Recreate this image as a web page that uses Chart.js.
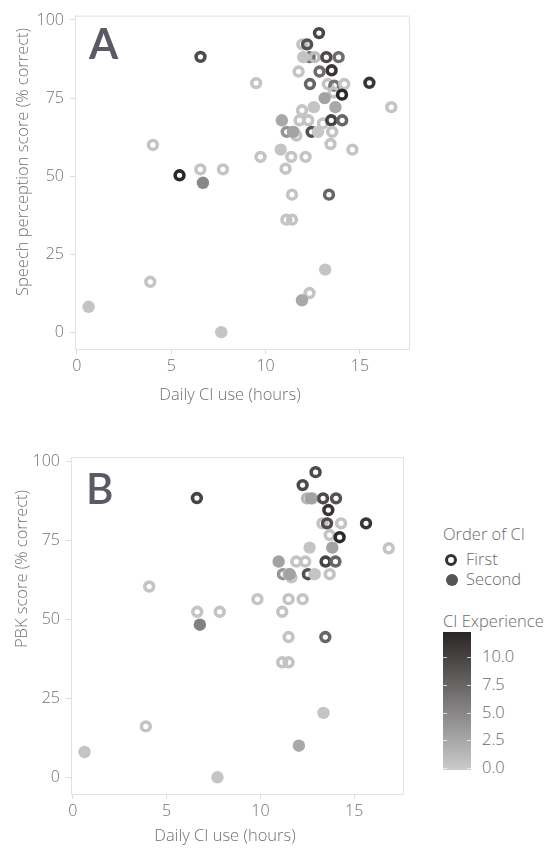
<!DOCTYPE html>
<html>
<head>
<meta charset="utf-8">
<script src="https://cdn.jsdelivr.net/npm/chart.js@4.4.1/dist/chart.umd.min.js"></script>
<style>
  body { margin: 0; background: #fff; width: 548px; height: 850px; position: relative; overflow: hidden; font-family: 'Open Sans', sans-serif; }
  canvas { position: absolute; left: 0; }
  .panel-tag { position: absolute; font-family: 'Lato', sans-serif; font-weight: 700; font-size: 42px; color: #5b5964; line-height: 1; }
  .lg { position: absolute; font-size: 16.5px; color: #6a6a6a; font-weight: 300; white-space: nowrap; line-height: 1; }
  .ring { position: absolute; width: 6px; height: 6px; border: 3.2px solid #333; border-radius: 50%; }
  .dot { position: absolute; width: 12px; height: 12px; background: #555; border-radius: 50%; }
  .cbar { position: absolute; left: 443px; top: 632px; width: 28px; height: 138px; background: linear-gradient(to bottom, #2a2525, #cbcbcb); }
  .cbtick { position: absolute; width: 4px; height: 1px; background: rgba(255,255,255,0.7); }
</style>
</head>
<body>
<canvas id="chartA" width="420" height="420" style="top:0"></canvas>
<canvas id="chartB" width="420" height="410" style="top:440px"></canvas>

<div class="panel-tag" style="left:89px; top:22px">A</div>
<div class="panel-tag" style="left:86px; top:467px; font-weight:600">B</div>

<div class="lg" style="left:443px; top:526px">Order of CI</div>
<div class="ring" style="left:445px; top:554px"></div>
<div class="lg" style="left:466px; top:551px">First</div>
<div class="dot" style="left:446px; top:574px"></div>
<div class="lg" style="left:466px; top:571px">Second</div>
<div class="lg" style="left:443px; top:613px">CI Experience</div>
<div class="cbar"></div>
<div id="cbticks"></div>

<script>
// axis ticks
const yTicks = [0, 25, 50, 75, 100];
const xTicks = [0, 5, 10, 15];
const expTicks = [0, 2.5, 5, 7.5, 10];

// Panel A - speech perception, first CI (rings)
const aFirstX = [12.83, 11.95, 12.2, 12.33, 12.6, 13.22, 13.87, 6.55, 11.75, 12.86, 13.5, 9.5, 12.35, 13.3, 13.64, 14.17, 15.5, 13.6, 14.05, 11.93, 16.66, 11.8, 12.26, 13.04, 13.48, 14.06, 11.12, 11.5, 11.63, 12.44, 13.53, 13.44, 14.6, 9.73, 11.36, 12.12, 11.06, 4.03, 6.54, 7.74, 5.44, 11.4, 13.36, 11.1, 11.4, 12.33, 3.89];
const aFirstY = [95.8, 92.2, 92.2, 88.1, 88.1, 88.1, 88.1, 88.2, 83.5, 83.5, 83.9, 79.8, 79.5, 79.5, 79.0, 79.5, 79.9, 76.8, 76.1, 71.1, 72.1, 67.9, 67.9, 66.9, 67.9, 67.9, 64.2, 64.2, 63.0, 64.2, 64.2, 60.3, 58.5, 56.2, 56.2, 56.2, 52.4, 60.0, 52.2, 52.2, 50.3, 44.1, 44.1, 36.1, 36.1, 12.6, 16.2];
const aFirstExp = [9.8, 0.5, 9, 6.8, 1, 9.5, 7, 9.5, 0.5, 7, 11, 0.5, 7.5, 0.5, 6.5, 0.5, 11, 0.5, 12, 0.5, 0.5, 0.5, 0.5, 0.5, 10, 7.5, 4, 0.5, 0.5, 9, 0.5, 0.5, 0.5, 0.5, 0.5, 0.5, 0.5, 0.5, 0.5, 0.5, 12, 0.5, 7.5, 0.5, 0.5, 0.5, 0.5];

// Panel A - second CI (filled)
const aSecondX = [12.0, 13.13, 12.56, 13.7, 10.86, 11.45, 12.78, 10.8, 6.68, 13.16, 11.93, 0.62, 7.65];
const aSecondY = [88.1, 75.0, 72.1, 72.1, 67.9, 64.2, 64.2, 58.5, 47.9, 20.1, 10.3, 8.2, 0.1];
const aSecondExp = [0.5, 3, 0.5, 2.5, 2.5, 3, 0.3, 0.5, 5, 0.5, 2.5, 0.5, 0.5];

// Panel B - PBK score, first CI (rings)
const bFirstX = [12.94, 12.25, 6.61, 12.48, 12.78, 13.34, 14.03, 13.62, 13.3, 13.55, 14.3, 15.63, 13.69, 14.22, 16.84, 11.91, 12.39, 13.47, 14.0, 11.2, 11.5, 11.65, 12.53, 13.69, 4.07, 9.84, 11.5, 12.25, 6.63, 7.83, 11.16, 11.5, 13.46, 11.16, 11.5, 3.89];
const bFirstY = [96.6, 92.5, 88.4, 88.3, 88.3, 88.3, 88.3, 84.6, 80.4, 80.4, 80.4, 80.4, 76.7, 76.0, 72.5, 68.3, 68.3, 68.3, 68.3, 64.3, 64.3, 63.3, 64.3, 64.3, 60.4, 56.4, 56.4, 56.4, 52.4, 52.4, 52.4, 44.4, 44.4, 36.4, 36.4, 16.1];
const bFirstExp = [9.5, 9.5, 10, 1.5, 0.5, 9.5, 9, 11, 0.5, 9.5, 0.5, 11, 0.5, 12, 0.5, 0.5, 0.5, 10, 7.5, 4, 0.5, 0.5, 9, 0.5, 0.5, 0.5, 0.5, 0.5, 0.5, 0.5, 0.5, 0.5, 7.5, 0.5, 0.5, 0.5];

// Panel B - second CI (filled)
const bSecondX = [12.7, 12.62, 13.83, 10.97, 11.56, 12.89, 6.77, 13.36, 12.05, 0.62, 7.71];
const bSecondY = [88.3, 72.7, 72.7, 68.3, 64.3, 64.3, 48.3, 20.4, 10.0, 8.0, 0.0];
const bSecondExp = [3, 0.5, 3, 3, 3, 0.5, 5.5, 0.5, 2.5, 0.5, 0.5];

const EXP_MAX = 12.2;
function expColor(e) {
    const t = Math.max(0, Math.min(1, e / EXP_MAX));
    const r = Math.round(203 + (42 - 203) * t);
    const g = Math.round(203 + (37 - 203) * t);
    return 'rgb(' + r + ',' + g + ',' + g + ')';
}

function pts(xs, ys) {
    return xs.map((x, i) => ({ x: x, y: ys[i] }));
}

// box around the plot area + axis titles placed like the original
function framePlugin(xTitle, xPos, yTitle, yPos) {
    return {
        id: 'frame',
        beforeDatasetsDraw(chart) {
            const a = chart.chartArea;
            const ctx = chart.ctx;
            ctx.save();
            ctx.strokeStyle = '#e2e2e2';
            ctx.lineWidth = 1;
            ctx.strokeRect(a.left + 0.5, a.top + 0.5, a.right - a.left, a.bottom - a.top);
            ctx.restore();
        },
        afterDraw(chart) {
            const ctx = chart.ctx;
            ctx.save();
            ctx.fillStyle = '#707070';
            ctx.font = '300 16.5px "Open Sans"';
            ctx.textAlign = 'center';
            ctx.textBaseline = 'middle';
            ctx.fillText(xTitle, xPos[0], xPos[1]);
            ctx.translate(yPos[0], yPos[1]);
            ctx.rotate(-Math.PI / 2);
            ctx.fillText(yTitle, 0, 0);
            ctx.restore();
        }
    };
}

function makePanel(id, firstX, firstY, firstExp, secondX, secondY, secondExp, box, titles) {
    const tickFont = { family: 'Open Sans', size: 16, weight: '300' };
    new Chart(document.getElementById(id), {
        type: 'scatter',
        data: {
            datasets: [{
                label: 'Second',
                data: pts(secondX, secondY),
                pointRadius: 6.2,
                pointBorderWidth: 0,
                pointBackgroundColor: secondExp.map(expColor),
                pointBorderColor: secondExp.map(expColor)
            }, {
                label: 'First',
                data: pts(firstX, firstY),
                pointRadius: 4.4,
                pointBorderWidth: 3.6,
                pointBackgroundColor: 'rgba(0,0,0,0)',
                pointBorderColor: firstExp.map(expColor)
            }]
        },
        options: {
            responsive: false,
            animation: false,
            events: [],
            layout: { padding: { top: box.top, right: box.right, left: 0, bottom: 0 } },
            plugins: { legend: { display: false }, tooltip: { enabled: false } },
            scales: {
                x: {
                    type: 'linear',
                    min: -0.1,
                    max: 17.6,
                    afterBuildTicks: s => { s.ticks = xTicks.map(v => ({ value: v })); },
                    afterFit: s => { s.height = box.xh; },
                    grid: { drawOnChartArea: false, drawTicks: true, tickLength: 5, color: '#dcdcdc' },
                    border: { display: true, color: '#e2e2e2' },
                    ticks: { font: tickFont, color: '#707070', padding: 3, maxRotation: 0 }
                },
                y: {
                    type: 'linear',
                    min: -5.3,
                    max: 101.4,
                    afterBuildTicks: s => { s.ticks = yTicks.map(v => ({ value: v })); },
                    afterFit: s => { s.width = box.yw; },
                    grid: { drawOnChartArea: false, drawTicks: true, tickLength: 5, color: '#dcdcdc' },
                    border: { display: true, color: '#e2e2e2' },
                    ticks: { font: tickFont, color: '#707070', padding: 6 }
                }
            }
        },
        plugins: [framePlugin(titles.x, titles.xPos, titles.y, titles.yPos)]
    });
}

makePanel('chartA', aFirstX, aFirstY, aFirstExp, aSecondX, aSecondY, aSecondExp,
    { top: 11, right: 11, xh: 71, yw: 75 },
    { x: 'Daily CI use (hours)', xPos: [230, 395], y: 'Speech perception score (% correct)', yPos: [23, 162] });

makePanel('chartB', bFirstX, bFirstY, bFirstExp, bSecondX, bSecondY, bSecondExp,
    { top: 17, right: 17, xh: 56, yw: 71 },
    { x: 'Daily CI use (hours)', xPos: [225, 396], y: 'PBK score (% correct)', yPos: [22, 129] });

// colour bar ticks and labels
const cbTop = 632, cbBottom = 770;
const cbHost = document.getElementById('cbticks');
expTicks.forEach(v => {
    const y = cbBottom - 1.7 - v * 11.16;
    const l = document.createElement('div');
    l.className = 'cbtick'; l.style.left = '443px'; l.style.top = Math.round(y) + 'px';
    const r = document.createElement('div');
    r.className = 'cbtick'; r.style.left = '467px'; r.style.top = Math.round(y) + 'px';
    const t = document.createElement('div');
    t.className = 'lg'; t.style.left = '482px'; t.style.top = Math.round(y - 9) + 'px';
    t.textContent = v.toFixed(1);
    cbHost.appendChild(l); cbHost.appendChild(r); cbHost.appendChild(t);
});
</script>
</body>
</html>
